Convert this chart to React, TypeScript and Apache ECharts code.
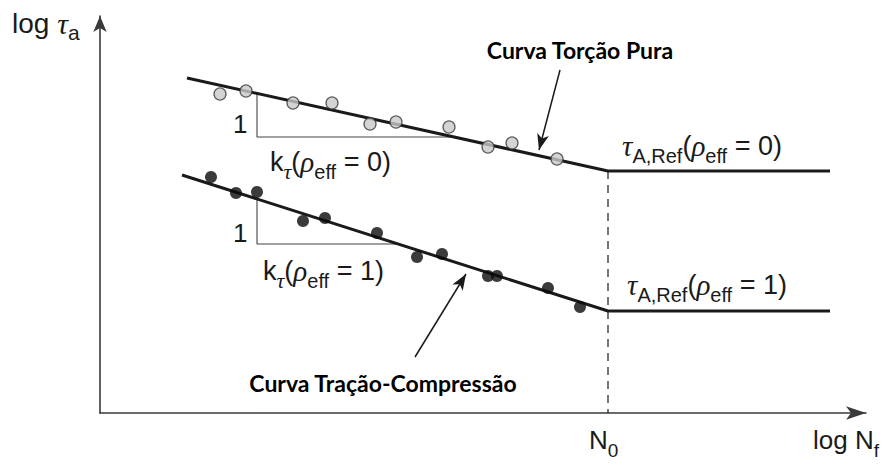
import React, { useEffect, useRef } from 'react';
import * as echarts from 'echarts';

// Schematic log-log S-N diagram; both axes in arbitrary log units.
const xMax = 76.6;
const yMax = 39.7;

// Pure torsion curve (rho_eff = 0): finite-life slope, knee at N0, plateau
const torsionCurve: number[][] = [[8.7, 33.5], [50.8, 24.2], [73.0, 24.2]];
const torsionPoints: number[][] = [
  [12.0, 31.9], [14.6, 32.2], [19.3, 31.0], [23.2, 31.0], [27.0, 28.9],
  [29.6, 29.1], [34.9, 28.6], [38.8, 26.6], [41.2, 27.0], [45.7, 25.4],
];

// Tension-compression curve (rho_eff = 1)
const axialCurve: number[][] = [[8.2, 23.8], [50.8, 10.2], [73.0, 10.2]];
const axialPoints: number[][] = [
  [11.1, 23.6], [13.6, 22.0], [15.7, 22.1], [20.3, 19.2], [22.5, 19.5],
  [27.7, 18.0], [31.7, 15.6], [34.2, 15.9], [38.8, 13.7], [39.7, 13.7],
  [44.8, 12.5], [48.0, 10.6],
];

// Knee-point abscissa (N0)
const kneeX = 50.8;

// Slope triangles: abscissa of the vertical leg, ordinate of the horizontal leg
const torsionTriangle = { x: 15.7, bottom: 27.6 };
const axialTriangle = { x: 15.7, bottom: 16.9 };

// Callout arrows: [tail, head]
const torsionArrow: number[][] = [[46.0, 34.3], [43.9, 26.3]];
const axialArrow: number[][] = [[31.5, 5.6], [36.6, 13.9]];

const yOnSlope = (c: number[][], x: number) =>
  c[0][1] + ((x - c[0][0]) * (c[1][1] - c[0][1])) / (c[1][0] - c[0][0]);
const xOnSlope = (c: number[][], y: number) =>
  c[0][0] + ((y - c[0][1]) * (c[1][0] - c[0][0])) / (c[1][1] - c[0][1]);

const triangle = (c: number[][], t: { x: number; bottom: number }) => [
  [t.x, yOnSlope(c, t.x)],
  [t.x, t.bottom],
  [xOnSlope(c, t.bottom), t.bottom],
];

const INK = '#1a1a1a';
const SANS = 'Liberation Sans';
const SERIF = 'Liberation Serif';

// Rich-text styles: r = upright, g = italic Greek, s = subscript, gs = Greek subscript.
// Subscripts sit at the bottom of a taller line box, which drops them below the baseline.
const mathRich = (size: number) => ({
  r: { fontFamily: SANS, fontSize: size, lineHeight: 40, fill: INK },
  g: { fontFamily: SERIF, fontStyle: 'italic', fontSize: size + 2, lineHeight: 40, fill: INK },
  s: { fontFamily: SANS, fontSize: Math.round(size * 0.74), lineHeight: 20, verticalAlign: 'bottom', fill: INK },
  gs: { fontFamily: SERIF, fontStyle: 'italic', fontSize: Math.round(size * 0.8), lineHeight: 19, verticalAlign: 'bottom', fill: INK },
});

const mathText = (x: number, y: number, text: string, size: number) => ({
  type: 'text',
  x,
  y,
  silent: true,
  style: { text, rich: mathRich(size), align: 'left', verticalAlign: 'middle' },
});

const boldText = (x: number, y: number, text: string) => ({
  type: 'text',
  x,
  y,
  silent: true,
  style: {
    text,
    fontFamily: 'Lato',
    fontWeight: 'bold',
    fontSize: 23,
    fill: '#000',
    align: 'center',
    verticalAlign: 'middle',
  },
});

const arrowMark = (a: number[][]) => ({
  silent: true,
  symbol: ['none', 'arrow'],
  symbolSize: [9, 16],
  label: { show: false },
  lineStyle: { color: INK, width: 1.5, type: 'solid' },
  data: [[{ coord: a[0] }, { coord: a[1] }]],
});

const thin = { color: '#444', width: 1.1 };

export default function App() {
  const ref = useRef<HTMLDivElement>(null);

  useEffect(() => {
    if (!ref.current) return;
    const chart = echarts.init(ref.current, undefined, { renderer: 'svg' });
    const axisLine = (size: number[]) => ({
      show: true,
      onZero: false,
      symbol: ['none', 'arrow'],
      symbolSize: size,
      lineStyle: { color: '#3a3a3a', width: 1.6 },
    });
    chart.setOption({
      animation: false,
      backgroundColor: '#fff',
      grid: { left: 100, right: 25, top: 16, bottom: 57 },
      xAxis: {
        type: 'value',
        min: 0,
        max: xMax,
        axisLine: axisLine([10, 20]),
        axisTick: { show: false },
        axisLabel: { show: false },
        splitLine: { show: false },
      },
      yAxis: {
        type: 'value',
        min: 0,
        max: yMax,
        axisLine: axisLine([10, 16]),
        axisTick: { show: false },
        axisLabel: { show: false },
        splitLine: { show: false },
      },
      series: [
        {
          type: 'line',
          data: triangle(torsionCurve, torsionTriangle),
          symbol: 'none',
          lineStyle: thin,
          z: 1,
          markLine: arrowMark(torsionArrow),
        },
        {
          type: 'line',
          data: triangle(axialCurve, axialTriangle),
          symbol: 'none',
          lineStyle: thin,
          z: 1,
          markLine: arrowMark(axialArrow),
        },
        {
          type: 'line',
          data: [[kneeX, torsionCurve[1][1]], [kneeX, 0]],
          symbol: 'none',
          lineStyle: { color: INK, width: 1.2, type: [8, 6] },
          z: 2,
        },
        {
          type: 'line',
          data: torsionCurve,
          symbol: 'none',
          lineStyle: { color: INK, width: 3 },
          z: 3,
        },
        {
          type: 'line',
          data: axialCurve,
          symbol: 'none',
          lineStyle: { color: INK, width: 3 },
          z: 3,
        },
        {
          type: 'scatter',
          data: torsionPoints,
          symbolSize: 12,
          itemStyle: { color: '#c9c9c9', borderColor: '#3a3a3a', borderWidth: 1.3 },
          z: 4,
        },
        {
          type: 'scatter',
          data: axialPoints,
          symbolSize: 12,
          itemStyle: { color: '#0a0a0a' },
          z: 4,
        },
      ],
      graphic: [
        mathText(12, 23, '{r|log }{g|τ}{s|a}', 28),
        boldText(580, 50, 'Curva Torção Pura'),
        boldText(383, 383, 'Curva Tração-Compressão'),
        mathText(233, 124, '{r|1}', 26),
        mathText(233, 233, '{r|1}', 26),
        mathText(270, 162, '{r|k}{gs|τ}{r|(}{g|ρ}{s|eff}{r| = 0)}', 27),
        mathText(263, 271, '{r|k}{gs|τ}{r|(}{g|ρ}{s|eff}{r| = 1)}', 27),
        mathText(622, 146, '{g|τ}{s|A,Ref}{r|(}{g|ρ}{s|eff}{r| = 0)}', 27),
        mathText(627, 285, '{g|τ}{s|A,Ref}{r|(}{g|ρ}{s|eff}{r| = 1)}', 27),
        mathText(589, 440, '{r|N}{s|0}', 26),
        mathText(813, 440, '{r|log N}{s|f}', 26),
      ],
    });
    return () => chart.dispose();
  }, []);

  return <div ref={ref} style={{ width: 891, height: 470, position: 'absolute', left: 0, top: 0 }} />;
}
